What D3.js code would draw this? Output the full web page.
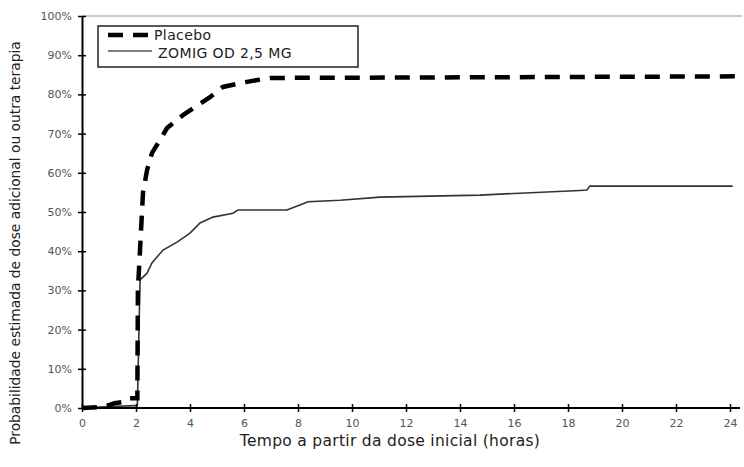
<!DOCTYPE html>
<html><head><meta charset="utf-8">
<script src="https://cdn.jsdelivr.net/npm/d3@7/dist/d3.min.js"></script>
<style>body{margin:0;background:#fff}svg{display:block}text{font-family:"DejaVu Sans",sans-serif}</style>
</head><body><svg id="c" width="744" height="467"></svg>
<script>
const seriesNames = ["Placebo", "ZOMIG OD 2,5 MG"];
const placeboT = [0, 0.8, 1.2, 1.5, 1.7, 2.05, 2.07, 2.26, 2.41, 2.59, 2.89, 3.15, 3.74, 4.3, 4.74, 5.22, 6.11, 6.96, 12, 20, 24.2];
const placeboP = [0, 0.3, 1.2, 1.5, 2.5, 2.5, 30, 55, 60.7, 65, 68.4, 71.4, 74.7, 77.3, 79.3, 81.9, 83.2, 84.2, 84.3, 84.5, 84.6];
const zomigT = [0, 1.0, 2.0, 2.05, 2.15, 2.41, 2.59, 3.0, 3.52, 4.0, 4.37, 4.85, 5.59, 5.78, 7.59, 8.07, 8.37, 9.56, 11.04, 14.74, 16.22, 17.22, 18.44, 18.7, 18.81, 24.1];
const zomigP = [0, 0.4, 0.6, 0.6, 32.7, 34.4, 37, 40.3, 42.3, 44.6, 47.2, 48.7, 49.7, 50.5, 50.5, 51.8, 52.6, 53, 53.8, 54.3, 54.8, 55.1, 55.5, 55.6, 56.6, 56.6];
const xTicks = [0, 2, 4, 6, 8, 10, 12, 14, 16, 18, 20, 22, 24];
const yTicks = [0, 10, 20, 30, 40, 50, 60, 70, 80, 90, 100];

const svg = d3.select("#c");
const x = d3.scaleLinear().domain([0, 24]).range([82, 730]);
const y = d3.scaleLinear().domain([0, 100]).range([408, 16]);

svg.append("line").attr("x1", 82).attr("x2", 742).attr("y1", y(100)).attr("y2", y(100))
  .attr("stroke", "#999").attr("stroke-width", 1.2);

const line = d3.line().x(d => x(d[0])).y(d => y(d[1]));
const pl = placeboT.map((t, i) => [t, placeboP[i]]);
const zo = zomigT.map((t, i) => [t, zomigP[i]]);

svg.append("path").attr("d", line(zo)).attr("fill", "none").attr("stroke", "#333").attr("stroke-width", 1.6);
svg.append("path").attr("d", line(pl)).attr("fill", "none").attr("stroke", "#000").attr("stroke-width", 4.5)
  .attr("stroke-dasharray", "15,10");

const yAxis = svg.append("g").attr("transform", "translate(82,0)")
  .call(d3.axisLeft(y).tickValues(yTicks).tickFormat(d => d + "%").tickSizeInner(4).tickSizeOuter(0).tickPadding(6));
const xAxis = svg.append("g").attr("transform", "translate(0,408)")
  .call(d3.axisBottom(x).tickValues(xTicks).tickSizeInner(4).tickSizeOuter(0).tickPadding(7));
[yAxis, xAxis].forEach(g => {
  g.select(".domain").attr("stroke", "#000").attr("stroke-width", 2);
  g.selectAll(".tick line").attr("stroke", "#000").attr("stroke-width", 1.5);
  g.selectAll(".tick text").attr("fill", "#555").attr("font-size", 11).attr("font-family", "DejaVu Sans, sans-serif");
});
yAxis.selectAll(".tick line").attr("x1", 4);
xAxis.selectAll(".tick line").attr("y1", -4);
xAxis.select(".domain").attr("d", "M82,0H740");

svg.append("text").attr("x", 390).attr("y", 446).attr("text-anchor", "middle")
  .attr("font-size", 15.5).attr("letter-spacing", 0.3).attr("fill", "#222").text("Tempo a partir da dose inicial (horas)");
svg.append("text").attr("transform", "translate(20,243) rotate(-90)").attr("text-anchor", "middle")
  .attr("font-size", 13.8).attr("fill", "#222").text("Probabilidade estimada de dose adicional ou outra terapia");

const lg = svg.append("g");
lg.append("rect").attr("x", 98).attr("y", 26).attr("width", 260).attr("height", 41)
  .attr("fill", "#fff").attr("stroke", "#222").attr("stroke-width", 1.5);
lg.append("line").attr("x1", 108).attr("x2", 153).attr("y1", 35).attr("y2", 35)
  .attr("stroke", "#000").attr("stroke-width", 4.5).attr("stroke-dasharray", "15,10");
lg.append("line").attr("x1", 108).attr("x2", 152).attr("y1", 51).attr("y2", 51)
  .attr("stroke", "#555").attr("stroke-width", 1.6);
lg.append("text").attr("x", 154).attr("y", 40).attr("font-size", 14).attr("letter-spacing", 0.4).attr("fill", "#222").text(seriesNames[0]);
lg.append("text").attr("x", 158).attr("y", 58).attr("font-size", 14).attr("letter-spacing", 0.4).attr("fill", "#222").text(seriesNames[1]);
</script></body></html>
